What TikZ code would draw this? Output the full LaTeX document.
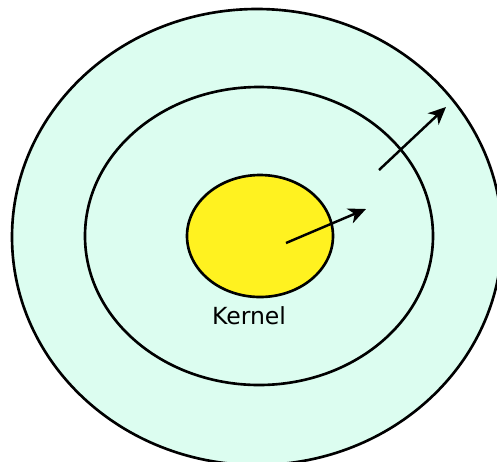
\documentclass[tikz,border=0pt]{standalone}
\usepackage{fontspec}
\setmainfont{DejaVu Sans}
\usepackage{xcolor}
\usepackage{tikz}
\usetikzlibrary{arrows.meta, positioning}
\definecolor{ringfill}{RGB}{220,253,240}
\definecolor{kernelfill}{RGB}{255,242,32}

\begin{document}
\begin{tikzpicture}[x=0.02cm, y=-0.02cm,
		ring/.style={line width=1.5pt, draw=black},
		growarrow/.style={line width=1.4pt, -{Stealth[length=10pt, width=9pt, inset=3pt]}}]
	\useasboundingbox (0,0) rectangle (497,461);
	\draw[ring, fill=ringfill] (257,237) ellipse (245 and 228);
	\draw[ring, fill=ringfill] (259,236) ellipse (174 and 149);
	\draw[ring, fill=kernelfill] (260,236) ellipse (73 and 61);
	\node[font=\fontsize{13.4pt}{16pt}\selectfont] (kernel) at (249,316) {Kernel};
	\coordinate (inA) at (286,243);
	\coordinate (inB) at (366,209);
	\coordinate (outA) at (379,170);
	\coordinate (outB) at (446,107);
	\draw[growarrow] (inA) -- (inB);
	\draw[growarrow] (outA) -- (outB);
\end{tikzpicture}
\end{document}
